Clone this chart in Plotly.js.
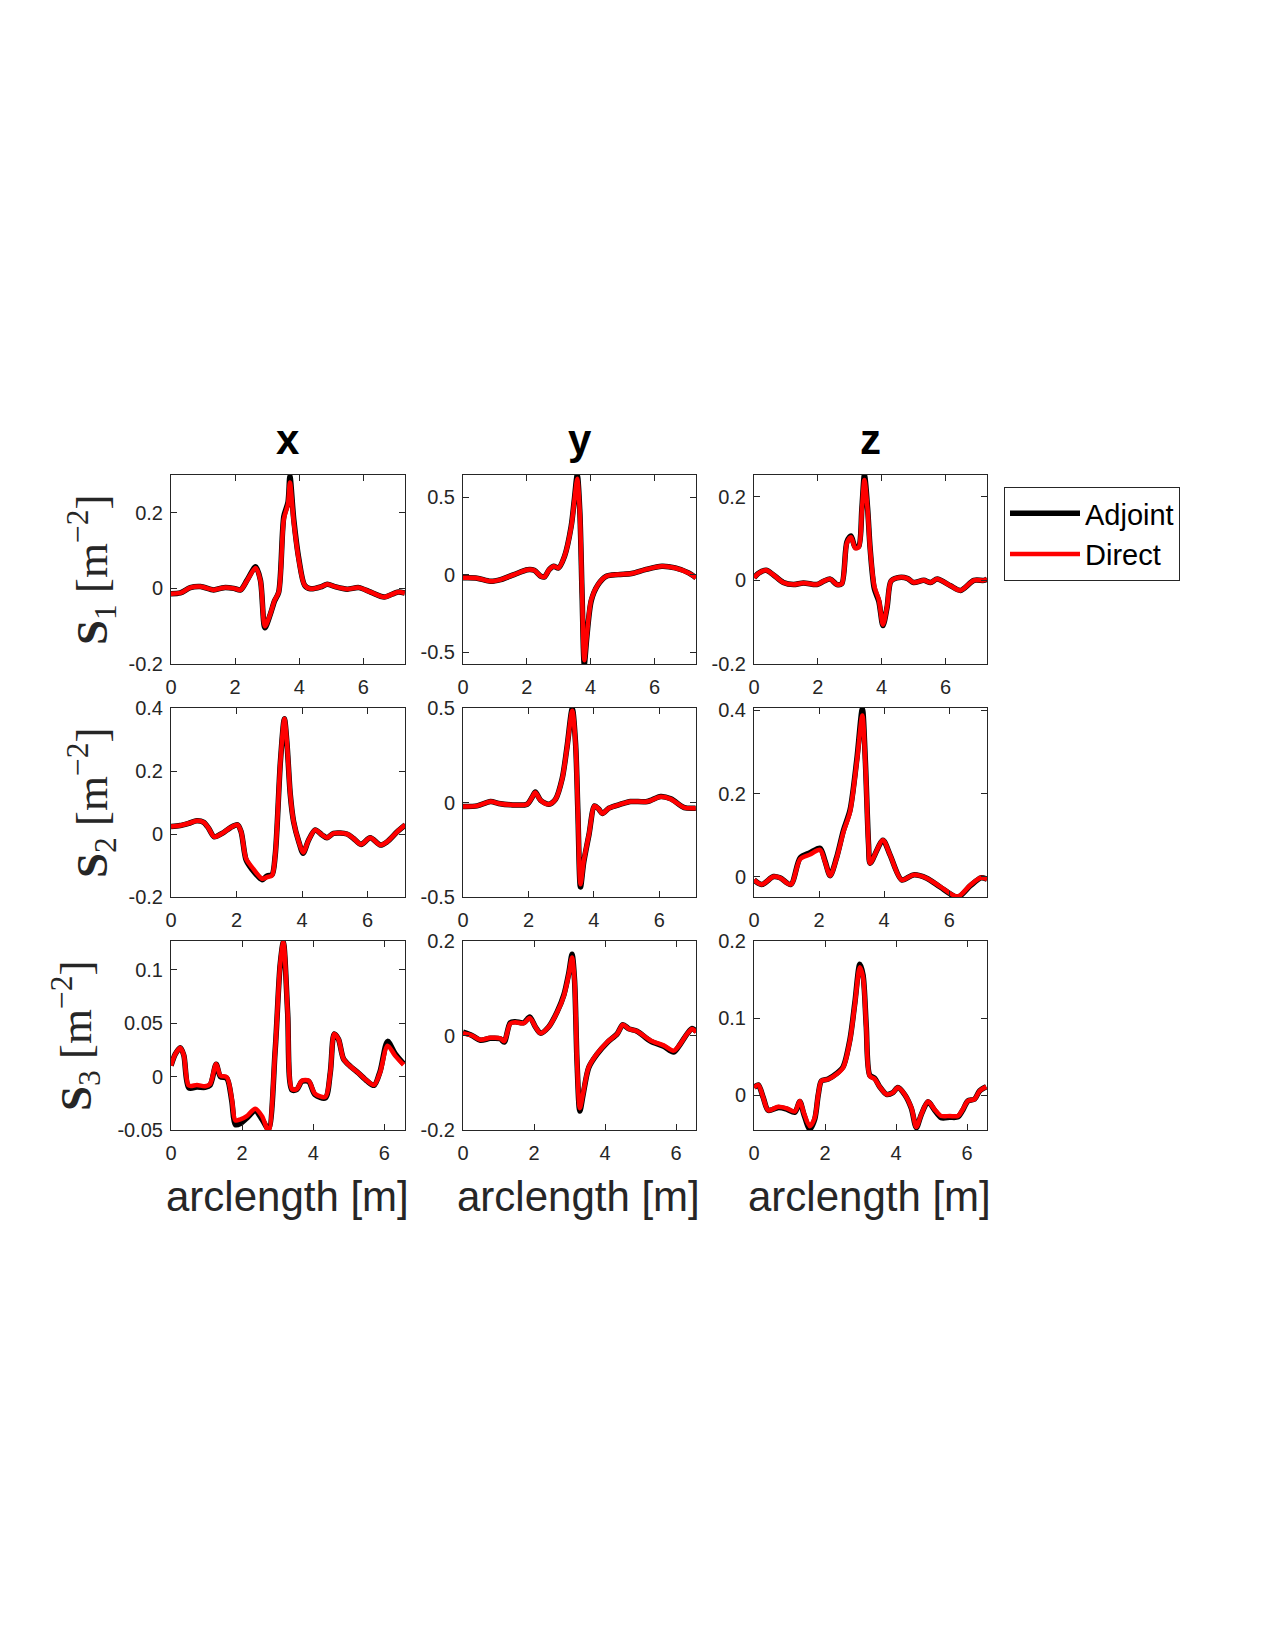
<!DOCTYPE html>
<html>
<head>
<meta charset="utf-8">
<script src="https://cdn.plot.ly/plotly-3.0.1.min.js"></script>
<style>html,body{margin:0;padding:0;background:#fff;}#chart{width:1275px;height:1650px;}</style>
</head>
<body>
<div id="chart"></div>
<script>
// ---------- data ----------
const columnTitles = ["x", "y", "z"];
const rowLabels = ["S", "S", "S"];
const rowIndex = ["1", "2", "3"];
const seriesNames = ["Adjoint", "Direct"];
const xTickVals = [0, 2, 4, 6];
const xTickText = ["0", "2", "4", "6"];

// Row 1: S1
const s1x_x = [0,0.29,0.60,0.92,1.33,1.65,1.96,2.17,2.375,2.64,2.79,2.93,3.10,3.23,3.36,3.52,3.65,3.71,3.83,3.99,4.17,4.35,4.67,4.875,5.14,5.5,5.86,6.23,6.65,7.06,7.29];
const s1x_direct = [-0.014,-0.012,0.002,0.005,-0.004,0.002,0,-0.004,0.021,0.054,0.021,-0.100,-0.067,-0.032,-0.010,0.183,0.223,0.280,0.175,0.074,0.008,-0.001,0.004,0.011,0.004,-0.002,0.002,-0.010,-0.023,-0.010,-0.012];
const s1x_adjoint = [-0.014,-0.012,0.002,0.005,-0.004,0.002,0,-0.004,0.022,0.057,0.022,-0.104,-0.068,-0.033,-0.010,0.190,0.228,0.297,0.182,0.077,0.008,-0.001,0.004,0.011,0.004,-0.002,0.002,-0.010,-0.023,-0.010,-0.012];

const s1y_x = [0,0.44,0.86,1.18,1.6,2.02,2.23,2.44,2.55,2.7,2.84,2.99,3.18,3.39,3.49,3.58,3.66,3.73,3.80,3.88,4.02,4.23,4.49,4.86,5.28,5.71,6.23,6.65,7.07,7.3];
const s1y_direct = [-0.019,-0.021,-0.041,-0.03,0.002,0.034,0.03,-0.009,-0.013,0.034,0.056,0.045,0.12,0.31,0.48,0.62,0.40,-0.115,-0.55,-0.39,-0.158,-0.062,-0.009,0.002,0.009,0.034,0.056,0.045,0.013,-0.019];
const s1y_adjoint = [-0.019,-0.021,-0.041,-0.03,0.002,0.034,0.03,-0.009,-0.013,0.034,0.056,0.045,0.12,0.315,0.49,0.645,0.41,-0.12,-0.575,-0.40,-0.165,-0.064,-0.009,0.002,0.009,0.034,0.056,0.045,0.013,-0.019];

const s1z_x = [0,0.14,0.38,0.61,0.92,1.24,1.55,1.97,2.18,2.39,2.6,2.75,2.91,3.04,3.17,3.28,3.38,3.46,3.56,3.64,3.77,3.91,4.04,4.17,4.29,4.48,4.8,5.0,5.32,5.53,5.74,6.16,6.47,6.89,7.2,7.3];
const s1z_direct = [0.006,0.017,0.024,0.013,-0.005,-0.01,-0.006,-0.01,-0.002,0.003,-0.01,-0.008,0.089,0.103,0.077,0.079,0.168,0.24,0.168,0.073,-0.014,-0.046,-0.106,-0.062,-0.002,0.006,0.005,-0.005,0,-0.005,0.003,-0.013,-0.024,0,0,0.003];
const s1z_adjoint = [0.006,0.017,0.024,0.013,-0.005,-0.01,-0.006,-0.01,-0.002,0.003,-0.01,-0.008,0.092,0.106,0.079,0.081,0.172,0.252,0.172,0.075,-0.02,-0.05,-0.108,-0.064,-0.002,0.006,0.005,-0.005,0,-0.005,0.003,-0.013,-0.024,0,0,0.003];

// Row 2: S2
const s2x_x = [0,0.28,0.54,0.79,1.0,1.15,1.32,1.56,1.81,2.03,2.14,2.29,2.47,2.78,2.93,3.08,3.18,3.34,3.46,3.54,3.64,3.74,3.9,4.03,4.2,4.4,4.61,4.76,4.96,5.37,5.57,5.8,6.08,6.39,6.59,6.9,7.15];
const s2x_direct = [0.024,0.027,0.034,0.042,0.037,0.018,-0.009,0.002,0.02,0.029,0.007,-0.078,-0.105,-0.142,-0.137,-0.132,-0.067,0.232,0.366,0.286,0.125,0.04,-0.025,-0.059,-0.019,0.013,-0.003,-0.012,0.002,0,-0.014,-0.033,-0.012,-0.035,-0.025,0.007,0.029];
const s2x_adjoint = [0.024,0.027,0.034,0.042,0.037,0.018,-0.009,0.002,0.02,0.029,0.007,-0.082,-0.112,-0.145,-0.133,-0.130,-0.067,0.232,0.366,0.286,0.125,0.04,-0.025,-0.061,-0.019,0.013,-0.003,-0.012,0.002,0,-0.014,-0.033,-0.012,-0.035,-0.025,0.007,0.029];

const s2y_x = [0,0.43,0.84,1.09,1.45,1.96,2.11,2.21,2.37,2.62,2.83,3.03,3.18,3.34,3.44,3.51,3.59,3.69,3.85,4.02,4.15,4.26,4.46,4.82,5.12,5.63,6.04,6.35,6.76,7.11];
const s2y_direct = [-0.021,-0.018,0.005,-0.005,-0.012,-0.009,0.027,0.053,0.012,-0.009,0.018,0.124,0.292,0.486,0.309,-0.044,-0.433,-0.309,-0.168,-0.018,-0.035,-0.058,-0.03,-0.009,0.005,0.005,0.03,0.018,-0.027,-0.03];
const s2y_adjoint = [-0.021,-0.018,0.005,-0.005,-0.012,-0.009,0.027,0.055,0.012,-0.009,0.018,0.126,0.295,0.497,0.312,-0.046,-0.447,-0.315,-0.170,-0.018,-0.035,-0.058,-0.03,-0.009,0.005,0.005,0.032,0.020,-0.027,-0.03];

const s2z_x = [0,0.24,0.6,0.8,1.13,1.42,1.72,2.03,2.18,2.34,2.54,2.75,2.95,3.16,3.33,3.42,3.52,3.57,3.96,4.18,4.54,4.9,5.31,5.72,6.26,6.65,6.97,7.16];
const s2z_direct = [-0.007,-0.018,0.001,-0.002,-0.018,0.043,0.054,0.065,0.037,0.003,0.045,0.108,0.156,0.276,0.387,0.276,0.076,0.033,0.088,0.053,-0.007,0.005,-0.003,-0.023,-0.047,-0.019,-0.002,-0.005];
const s2z_adjoint = [-0.007,-0.018,0.001,-0.002,-0.018,0.046,0.058,0.069,0.039,0.003,0.047,0.112,0.160,0.282,0.403,0.282,0.078,0.033,0.088,0.053,-0.007,0.005,-0.003,-0.024,-0.048,-0.021,-0.002,-0.005];

// Row 3: S3
const s3x_x = [0,0.12,0.26,0.36,0.5,0.73,0.96,1.1,1.27,1.39,1.57,1.71,1.81,1.95,2.13,2.37,2.56,2.74,2.93,3.07,3.16,3.28,3.4,3.54,3.68,3.87,4.05,4.34,4.48,4.59,4.71,4.85,5.04,5.27,5.51,5.71,5.88,6.09,6.3,6.54];
const s3x_direct = [0.0103,0.021,0.027,0.020,-0.0084,-0.0078,-0.009,-0.0069,0.0119,0.0009,-0.0006,-0.021,-0.041,-0.040,-0.037,-0.030,-0.037,-0.051,0.025,0.105,0.126,0.060,-0.0116,-0.0116,-0.0038,-0.0038,-0.016,-0.019,0.004,0.040,0.035,0.0166,0.0097,0.0034,-0.0038,-0.0078,0.004,0.029,0.0197,0.011];
const s3x_adjoint = [0.0103,0.021,0.027,0.020,-0.0105,-0.0098,-0.010,-0.0080,0.0115,0.0000,-0.0015,-0.023,-0.045,-0.044,-0.039,-0.032,-0.040,-0.049,0.025,0.105,0.126,0.060,-0.0125,-0.0120,-0.0045,-0.0045,-0.017,-0.020,0.004,0.040,0.035,0.0166,0.0097,0.0034,-0.0040,-0.0082,0.005,0.033,0.0215,0.012];

const s3y_x = [0,0.25,0.49,0.77,1.05,1.16,1.33,1.47,1.71,1.88,2.04,2.18,2.41,2.65,2.84,2.98,3.07,3.14,3.21,3.29,3.38,3.54,3.77,4.06,4.34,4.5,4.67,4.9,5.28,5.65,5.93,6.12,6.31,6.45,6.57];
const s3y_direct = [0.005,0,-0.009,-0.005,-0.006,-0.012,0.025,0.028,0.026,0.037,0.018,0.005,0.018,0.049,0.084,0.13,0.165,0.116,-0.053,-0.154,-0.123,-0.067,-0.039,-0.014,0.0035,0.023,0.014,0.009,-0.0105,-0.021,-0.032,-0.0175,0.0035,0.014,0.007];
const s3y_adjoint = [0.007,0,-0.010,-0.006,-0.007,-0.014,0.027,0.029,0.027,0.039,0.018,0.005,0.018,0.050,0.086,0.133,0.172,0.118,-0.055,-0.160,-0.126,-0.068,-0.040,-0.015,0.0035,0.023,0.014,0.009,-0.012,-0.023,-0.035,-0.018,0.0035,0.015,0.008];

const s3z_x = [0,0.12,0.26,0.4,0.68,0.92,1.15,1.29,1.4,1.57,1.71,1.81,1.9,2.09,2.32,2.51,2.7,2.84,2.98,3.07,3.16,3.26,3.4,3.54,3.73,3.91,4.05,4.24,4.43,4.57,4.71,4.9,5.08,5.27,5.51,5.74,5.88,6.02,6.21,6.35,6.54];
const s3z_direct = [0.01,0.0134,-0.003,-0.0195,-0.015,-0.017,-0.021,-0.0074,-0.0225,-0.040,-0.029,0.0013,0.0186,0.0208,0.0273,0.036,0.0706,0.118,0.166,0.153,0.088,0.025,0.021,0.011,0.0013,0.0035,0.01,0.0013,-0.016,-0.041,-0.0247,-0.0082,-0.018,-0.0268,-0.0268,-0.0268,-0.018,-0.0074,-0.005,0.0056,0.011];
const s3z_adjoint = [0.01,0.0134,-0.003,-0.0195,-0.016,-0.018,-0.022,-0.0080,-0.024,-0.044,-0.031,0.0010,0.0186,0.0210,0.0280,0.037,0.0720,0.120,0.170,0.156,0.090,0.026,0.022,0.011,0.0013,0.0035,0.01,0.0010,-0.017,-0.042,-0.0250,-0.0085,-0.019,-0.0290,-0.0285,-0.0280,-0.019,-0.0074,-0.005,0.0056,0.011];

// y tick values / labels per panel (row-major)
const yTickVals = [
  [-0.2, 0, 0.2], [-0.5, 0, 0.5], [-0.2, 0, 0.2],
  [-0.2, 0, 0.2, 0.4], [-0.5, 0, 0.5], [0, 0.2, 0.4],
  [-0.05, 0, 0.05, 0.1], [-0.2, 0, 0.2], [0, 0.1, 0.2]
];
const yTickText = [
  ["-0.2", "0", "0.2"], ["-0.5", "0", "0.5"], ["-0.2", "0", "0.2"],
  ["-0.2", "0", "0.2", "0.4"], ["-0.5", "0", "0.5"], ["0", "0.2", "0.4"],
  ["-0.05", "0", "0.05", "0.1"], ["-0.2", "0", "0.2"], ["0", "0.1", "0.2"]
];
const yRanges = [
  [-0.2, 0.3], [-0.575, 0.645], [-0.2, 0.252],
  [-0.2, 0.4], [-0.5, 0.5], [-0.048, 0.405],
  [-0.05, 0.127], [-0.2, 0.2], [-0.045, 0.2]
];
const xRanges = [
  [0, 7.3], [0, 7.3], [0, 7.3],
  [0, 7.14], [0, 7.12], [0, 7.16],
  [0, 6.58], [0, 6.56], [0, 6.56]
];

const panelX = [s1x_x, s1y_x, s1z_x, s2x_x, s2y_x, s2z_x, s3x_x, s3y_x, s3z_x];
const panelAdjoint = [s1x_adjoint, s1y_adjoint, s1z_adjoint, s2x_adjoint, s2y_adjoint, s2z_adjoint, s3x_adjoint, s3y_adjoint, s3z_adjoint];
const panelDirect = [s1x_direct, s1y_direct, s1z_direct, s2x_direct, s2y_direct, s2z_direct, s3x_direct, s3y_direct, s3z_direct];

// ---------- layout geometry ----------
const W = 1275, H = 1650;
const colPx = [[171, 405], [463, 696], [754, 987]];
const rowPx = [[475, 664], [708, 897], [941, 1130]];
const axisColor = "#262626";
const tickFont = {family: "Liberation Sans, Arial, sans-serif", size: 20, color: axisColor};

const traces = [];
const layout = {
  width: W, height: H,
  margin: {l: 0, r: 0, t: 0, b: 0},
  paper_bgcolor: "#ffffff", plot_bgcolor: "#ffffff",
  showlegend: true,
  legend: {
    x: 1004 / W, y: 1 - 487 / H, xanchor: "left", yanchor: "top",
    bordercolor: axisColor, borderwidth: 1, bgcolor: "#ffffff",
    font: {family: "Liberation Sans, Arial, sans-serif", size: 29, color: "#000000"},
    tracegroupgap: 0, itemwidth: 70
  },
  annotations: []
};

for (let r = 0; r < 3; r++) {
  for (let c = 0; c < 3; c++) {
    const k = r * 3 + c;
    const n = k + 1;
    const xa = n === 1 ? "xaxis" : "xaxis" + n;
    const ya = n === 1 ? "yaxis" : "yaxis" + n;
    const xref = n === 1 ? "x" : "x" + n;
    const yref = n === 1 ? "y" : "y" + n;
    layout[xa] = {
      domain: [colPx[c][0] / W, colPx[c][1] / W],
      anchor: yref, range: xRanges[k],
      tickvals: xTickVals, ticktext: xTickText,
      ticks: "inside", ticklen: 6, tickwidth: 1, tickcolor: axisColor,
      showline: true, linecolor: axisColor, linewidth: 1, mirror: "ticks",
      showgrid: false, zeroline: false, tickfont: tickFont, fixedrange: true,
      ticklabelstandoff: 5
    };
    layout[ya] = {
      domain: [1 - rowPx[r][1] / H, 1 - rowPx[r][0] / H],
      anchor: xref, range: yRanges[k],
      tickvals: yTickVals[k], ticktext: yTickText[k],
      ticks: "inside", ticklen: 6, tickwidth: 1, tickcolor: axisColor,
      showline: true, linecolor: axisColor, linewidth: 1, mirror: "ticks",
      showgrid: false, zeroline: false, tickfont: tickFont, fixedrange: true,
      ticklabelstandoff: 3
    };
    traces.push({
      type: "scatter", mode: "lines", name: seriesNames[0], legendgroup: "adj",
      showlegend: k === 0, x: panelX[k], y: panelAdjoint[k], xaxis: xref, yaxis: yref,
      line: {color: "#000000", width: 5.5, shape: "spline", smoothing: 0.8},
      hoverinfo: "skip"
    });
    traces.push({
      type: "scatter", mode: "lines", name: seriesNames[1], legendgroup: "dir",
      showlegend: k === 0, x: panelX[k], y: panelDirect[k], xaxis: xref, yaxis: yref,
      line: {color: "#ff0000", width: 4.5, shape: "spline", smoothing: 0.8},
      hoverinfo: "skip"
    });
  }
}

// column titles and x labels
const colCenters = colPx.map(p => (p[0] + p[1]) / 2);
for (let c = 0; c < 3; c++) {
  layout.annotations.push({
    xref: "paper", yref: "paper", x: colCenters[c] / W, y: 1 - 440 / H,
    xanchor: "center", yanchor: "middle", showarrow: false,
    text: "<b>" + columnTitles[c] + "</b>",
    font: {family: "Liberation Sans, Arial, sans-serif", size: 42, color: "#000000"}
  });
  layout.annotations.push({
    xref: "paper", yref: "paper", x: (colCenters[c] - 1) / W, y: 1 - 1196 / H,
    xanchor: "center", yanchor: "middle", showarrow: false,
    text: "arclength [m]",
    font: {family: "Liberation Sans, Arial, sans-serif", size: 42, color: axisColor}
  });
}
// row labels
const rowLabelPos = [[91, 569], [91, 802], [75, 1036]];
for (let r = 0; r < 3; r++) {
  layout.annotations.push({
    xref: "paper", yref: "paper", x: rowLabelPos[r][0] / W, y: 1 - rowLabelPos[r][1] / H,
    xanchor: "center", yanchor: "middle", showarrow: false, textangle: -90,
    text: "<b>" + rowLabels[r] + "</b><sub>" + rowIndex[r] + "</sub> [m<sup>\u22122</sup>]",
    font: {family: "Liberation Serif, Times New Roman, serif", size: 45, color: axisColor}
  });
}

Plotly.newPlot("chart", traces, layout, {displayModeBar: false, staticPlot: true});
</script>
</body>
</html>
